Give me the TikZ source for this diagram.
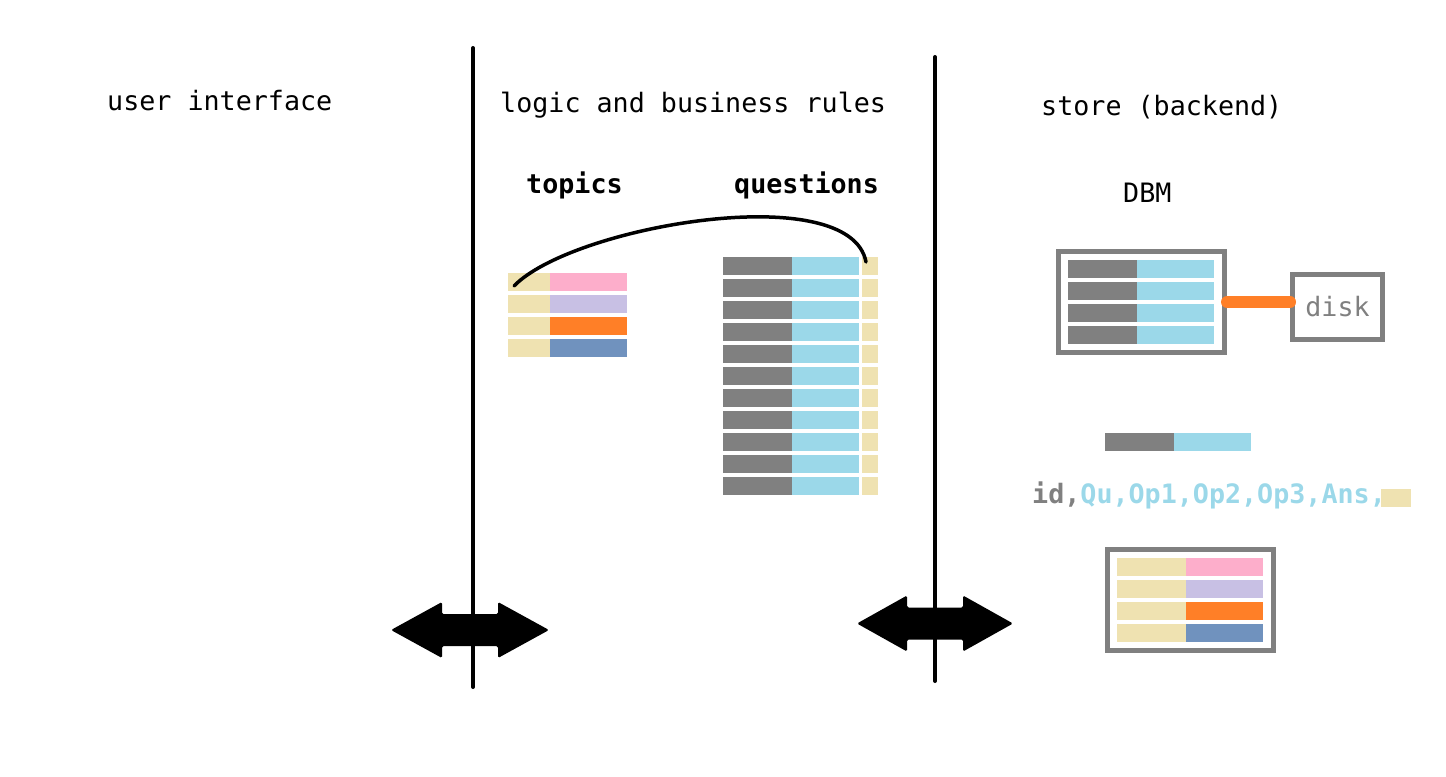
\documentclass[tikz,border=0pt]{standalone}
\usepackage{fontspec}
\newfontfamily\monofam{DejaVu Sans Mono}
\definecolor{cgray}{RGB}{128,128,128}
\definecolor{cblue}{RGB}{155,216,233}
\definecolor{cbeige}{RGB}{239,226,177}
\definecolor{cpink}{RGB}{253,174,203}
\definecolor{clav}{RGB}{200,192,228}
\definecolor{corange}{RGB}{255,127,39}
\definecolor{csteel}{RGB}{112,146,190}
\tikzset{
  lbl/.style={anchor=base west, inner sep=0pt, font=\monofam\fontsize{26.8}{30}\selectfont},
  blbl/.style={lbl, font=\monofam\bfseries\fontsize{26.8}{30}\selectfont},
  divider/.style={line width=4bp, line cap=round},
  gbox/.style={draw=cgray, line width=5bp, inner sep=0pt, rectangle},
  link/.style={line width=3.5bp, line cap=round},
  plug/.style={draw=corange, line width=12bp, line cap=round},
}
\newcommand\dblarrowshape[3]{% center x, center y, half length
  \fill[rounded corners=1.5bp] (#1-#3,#2) -- (#1-28,#2-28) -- (#1-28,#2-16) -- (#1+28,#2-16) -- (#1+28,#2-28)
    -- (#1+#3,#2) -- (#1+28,#2+28) -- (#1+28,#2+16) -- (#1-28,#2+16) -- (#1-28,#2+28) -- cycle;}
\begin{document}
\begin{tikzpicture}[x=1bp,y=-1bp]
\useasboundingbox (0,0) rectangle (1446,776);
% headings
\node[lbl] (ui) at (107,110) {user interface};
\node[lbl] (logic) at (500,112) {logic and business rules};
\node[lbl] (store) at (1041,115) {store (backend)};
\node[blbl] (topics) at (526,193) {topics};
\node[blbl] (questions) at (734,193) {questions};
\node[lbl] (dbmlbl) at (1123,202) {DBM};
% dividers
\coordinate (d1t) at (473,48); \coordinate (d1b) at (473,687);
\coordinate (d2t) at (935,57); \coordinate (d2b) at (935,681);
\draw[divider] (d1t) -- (d1b);
\draw[divider] (d2t) -- (d2b);
% double arrows
\dblarrowshape{470}{630}{79}
\dblarrowshape{935}{623.5}{78}
% topics table
\foreach \c [count=\i from 0] in {cpink,clav,corange,csteel}{
  \fill[cbeige] (508,273+22*\i) rectangle (550,291+22*\i);
  \fill[\c] (550,273+22*\i) rectangle (627,291+22*\i);
}
% questions table
\foreach \i in {0,...,10}{
  \fill[cgray] (723,257+22*\i) rectangle (792,275+22*\i);
  \fill[cblue] (792,257+22*\i) rectangle (859,275+22*\i);
  \fill[cbeige] (862,257+22*\i) rectangle (878,275+22*\i);
}
\coordinate (tref) at (514,286);
\coordinate (qref) at (866,262);
\draw[link] (tref) .. controls (572,226) and (850,178) .. (qref);
% DBM box
\node[gbox, minimum width=166bp, minimum height=101bp] (dbm) at (1141.5,302) {};
\foreach \i in {0,...,3}{
  \fill[cgray] (1068,260+22*\i) rectangle (1137,278+22*\i);
  \fill[cblue] (1137,260+22*\i) rectangle (1214,278+22*\i);
}
\node[gbox, minimum width=90bp, minimum height=65bp, text=cgray, font=\monofam\fontsize{26.8}{30}\selectfont] (disk) at (1337.5,307) {disk};
\draw[plug] (dbm.east) -- (dbm.east -| disk.west);
% single record bar
\fill[cgray] (1105,433) rectangle (1174,451);
\fill[cblue] (1174,433) rectangle (1251,451);
% record format
\node[blbl] (fmt) at (1032,503) {\textcolor{cgray}{id,}\textcolor{cblue}{Qu,Op1,Op2,Op3,Ans,}};
\fill[cbeige] (1381,489) rectangle (1411,507);
% stored topics
\node[gbox, minimum width=166bp, minimum height=101bp] (tbox) at (1190.5,600) {};
\foreach \c [count=\i from 0] in {cpink,clav,corange,csteel}{
  \fill[cbeige] (1117,558+22*\i) rectangle (1186,576+22*\i);
  \fill[\c] (1186,558+22*\i) rectangle (1263,576+22*\i);
}
\end{tikzpicture}
\end{document}
